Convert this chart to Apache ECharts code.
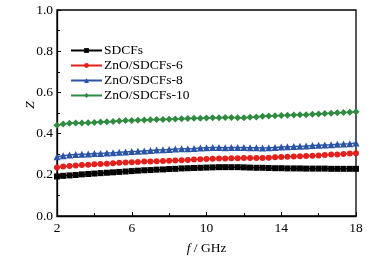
<!DOCTYPE html>
<html>
<head>
<meta charset="utf-8">
<script src="https://cdn.jsdelivr.net/npm/echarts@6/dist/echarts.min.js"></script>
<style>
  html, body { margin: 0; padding: 0; background: #fff; }
  #chart { width: 382px; height: 256px; }
</style>
</head>
<body>
<div id="chart"></div>
<script>
// frequency points (GHz)
var freq = [2, 2.33, 2.67, 3, 3.33, 3.67, 4, 4.33, 4.67, 5, 5.33, 5.67, 6, 6.33, 6.67, 7, 7.33, 7.67,
  8, 8.33, 8.67, 9, 9.33, 9.67, 10, 10.33, 10.67, 11, 11.33, 11.67, 12, 12.33, 12.67, 13, 13.33, 13.67,
  14, 14.33, 14.67, 15, 15.33, 15.67, 16, 16.33, 16.67, 17, 17.33, 17.67, 18];

var names = ['SDCFs', 'ZnO/SDCFs-6', 'ZnO/SDCFs-8', 'ZnO/SDCFs-10'];
var colors = ['#000000', '#e3211c', '#2b54a6', '#2e8b40'];
var symbols = ['rect', 'circle', 'triangle', 'diamond'];
var sizes = [6, 6, 7, 7];

var sdcfs = [0.192, 0.195, 0.197, 0.199, 0.202, 0.204, 0.206, 0.208, 0.210, 0.212, 0.214, 0.216, 0.218, 0.220, 0.222, 0.223, 0.225, 0.226,
  0.228, 0.229, 0.231, 0.232, 0.233, 0.234, 0.235, 0.236, 0.237, 0.237, 0.237, 0.237, 0.236, 0.235, 0.234, 0.234, 0.233, 0.232,
  0.232, 0.231, 0.231, 0.231, 0.230, 0.230, 0.230, 0.230, 0.229, 0.229, 0.229, 0.229, 0.229];
var zno6 = [0.236, 0.240, 0.243, 0.245, 0.247, 0.249, 0.251, 0.253, 0.254, 0.256, 0.258, 0.260, 0.261, 0.262, 0.264, 0.265, 0.266, 0.267,
  0.268, 0.270, 0.271, 0.272, 0.274, 0.276, 0.277, 0.278, 0.279, 0.279, 0.280, 0.280, 0.281, 0.281, 0.282, 0.282, 0.283, 0.285,
  0.287, 0.288, 0.289, 0.290, 0.291, 0.293, 0.294, 0.296, 0.298, 0.299, 0.301, 0.303, 0.305];
var zno8 = [0.288, 0.293, 0.296, 0.298, 0.300, 0.301, 0.303, 0.304, 0.306, 0.307, 0.309, 0.311, 0.313, 0.314, 0.316, 0.318, 0.320, 0.321,
  0.323, 0.325, 0.326, 0.327, 0.328, 0.330, 0.331, 0.332, 0.332, 0.331, 0.332, 0.333, 0.332, 0.331, 0.331, 0.330, 0.331, 0.333,
  0.335, 0.336, 0.337, 0.339, 0.340, 0.342, 0.344, 0.345, 0.346, 0.348, 0.349, 0.351, 0.354];
var zno10 = [0.440, 0.447, 0.450, 0.451, 0.452, 0.453, 0.454, 0.456, 0.458, 0.459, 0.461, 0.463, 0.464, 0.465, 0.466, 0.467, 0.468, 0.469,
  0.470, 0.471, 0.472, 0.473, 0.474, 0.475, 0.476, 0.477, 0.477, 0.478, 0.478, 0.477, 0.477, 0.479, 0.481, 0.484, 0.486, 0.487,
  0.488, 0.489, 0.490, 0.491, 0.492, 0.494, 0.495, 0.497, 0.499, 0.501, 0.502, 0.504, 0.506];
var allData = [sdcfs, zno6, zno8, zno10];

var font = 'Liberation Serif';
var fs = 13.5;

function pairs(ys) {
  return freq.map(function (f, i) { return [f, ys[i]]; });
}

var chart = echarts.init(document.getElementById('chart'));
chart.setOption({
  animation: false,
  color: colors,
  textStyle: { fontFamily: font },
  grid: {
    left: 57, right: 26, top: 10, bottom: 40,
    outerBoundsMode: 'none',
    show: true, borderColor: '#000', borderWidth: 1.3
  },
  legend: {
    orient: 'vertical',
    left: 70, top: 43, padding: 0,
    itemWidth: 31, itemHeight: 6, itemGap: 0,
    data: names,
    textStyle: { fontFamily: font, fontSize: fs, lineHeight: 15, color: '#000', padding: [0, 0, 0, -3] }
  },
  xAxis: {
    type: 'value',
    min: 2, max: 18, interval: 4,
    name: '{i|f} / GHz',
    nameLocation: 'middle', nameGap: 25,
    nameTextStyle: {
      fontFamily: font, fontSize: fs, color: '#000',
      rich: { i: { fontStyle: 'italic', fontFamily: font, fontSize: fs } }
    },
    axisLine: { lineStyle: { color: '#000', width: 1.3 } },
    axisTick: { inside: true, length: 4, lineStyle: { color: '#000' } },
    minorTick: { show: true, splitNumber: 2, length: 3, lineStyle: { color: '#000' } },
    axisLabel: { fontFamily: font, fontSize: fs, color: '#000', margin: 5 },
    splitLine: { show: false }
  },
  yAxis: {
    type: 'value',
    min: 0, max: 1, interval: 0.2,
    name: 'Z',
    nameLocation: 'middle', nameGap: 20, nameMoveOverlap: false,
    nameTextStyle: { fontFamily: font, fontSize: fs, fontStyle: 'italic', color: '#000', padding: [0, 0, 0, 16] },
    axisLine: { show: true, lineStyle: { color: '#000', width: 1.3 } },
    axisTick: { show: true, inside: true, length: 4, lineStyle: { color: '#000' } },
    minorTick: { show: true, splitNumber: 2, length: 3, lineStyle: { color: '#000' } },
    axisLabel: {
      fontFamily: font, fontSize: fs, color: '#000', margin: 4,
      formatter: function (v) { return v.toFixed(1); }
    },
    splitLine: { show: false }
  },
  series: names.map(function (n, k) {
    return {
      name: n,
      type: 'line',
      data: pairs(allData[k]),
      symbol: symbols[k],
      symbolSize: sizes[k],
      showAllSymbol: true,
      lineStyle: { width: 1.5 },
      itemStyle: { color: colors[k] }
    };
  })
});
</script>
</body>
</html>
